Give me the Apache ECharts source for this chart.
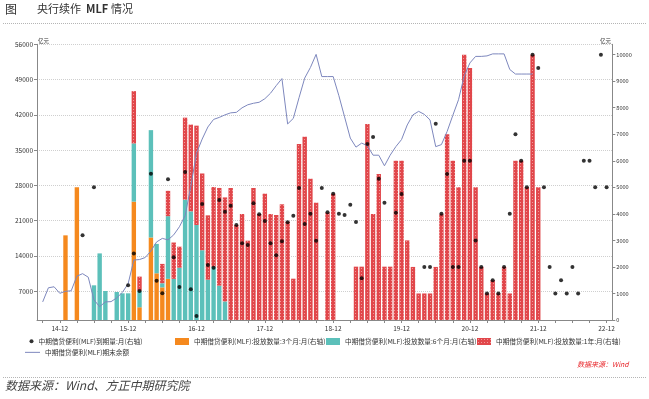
<!DOCTYPE html>
<html>
<head>
<meta charset="utf-8">
<script src="https://cdn.jsdelivr.net/npm/echarts@6/dist/echarts.min.js"></script>
<style>
  html, body { margin: 0; padding: 0; background: #fff; }
  #chart { width: 649px; height: 399px; }
</style>
</head>
<body>
<div id="chart"></div>
<script>
// 月度类目 14-08 ~ 23-01
const months = [];
for (let i = 0; i < 102; i++) {
  const m = 7 + i;
  const y = 14 + Math.floor(m / 12);
  const mm = (m % 12) + 1;
  months.push(y + '-' + (mm < 10 ? '0' + mm : mm));
}
const yearLabels = ['14-12', '15-12', '16-12', '17-12', '18-12', '19-12', '20-12', '21-12', '22-12'];
const leftTicks = [7000, 14000, 21000, 28000, 35000, 42000, 49000, 56000];

// 投放数量:3个月 (亿元, 右轴)
const issue3m = [
  ['15-01', 3190], ['15-03', 5000], ['16-01', 4460], ['16-02', 480],
  ['16-04', 3110], ['16-05', 1760], ['16-06', 1230], ['16-07', 1550]
];
// 投放数量:6个月
const issue6m = [
  ['15-06', 1307], ['15-07', 2510], ['15-08', 1093], ['15-10', 1055], ['15-11', 1005],
  ['15-12', 1005], ['16-01', 2195], ['16-02', 625], ['16-04', 4045], ['16-05', 1108],
  ['16-06', 155], ['16-07', 2363], ['16-08', 1550], ['16-09', 1971], ['16-10', 4535],
  ['16-11', 4095], ['16-12', 3581], ['17-01', 2630], ['17-02', 1520], ['17-03', 2010],
  ['17-04', 1295], ['17-05', 700]
];
// 投放数量:1年
const issue1y = [
  ['16-01', 1970], ['16-02', 530], ['16-06', 729], ['16-07', 955], ['16-08', 1370],
  ['16-09', 792], ['16-10', 3090], ['16-11', 3268], ['16-12', 3743], ['17-01', 2892],
  ['17-02', 2424], ['17-03', 3000], ['17-04', 3682], ['17-05', 3920], ['17-06', 4975],
  ['17-07', 3581], ['17-08', 3995], ['17-09', 2990], ['17-10', 4975], ['17-11', 3995],
  ['17-12', 4760], ['18-01', 3995], ['18-02', 3958], ['18-03', 4360], ['18-04', 3706],
  ['18-05', 1557], ['18-06', 6630], ['18-07', 6905], ['18-08', 5325], ['18-09', 4420],
  ['18-11', 4045], ['18-12', 4760], ['19-04', 2010], ['19-05', 2010], ['19-06', 7390],
  ['19-07', 3995], ['19-08', 5500], ['19-09', 2010], ['19-10', 2010], ['19-11', 6000],
  ['19-12', 6000], ['20-01', 3000], ['20-02', 2000], ['20-03', 1000], ['20-04', 1000],
  ['20-05', 1000], ['20-06', 2000], ['20-07', 4000], ['20-08', 7000], ['20-09', 6000],
  ['20-10', 5000], ['20-11', 10000], ['20-12', 9500], ['21-01', 5000], ['21-02', 2000],
  ['21-03', 1000], ['21-04', 1500], ['21-05', 1000], ['21-06', 2000], ['21-07', 1000],
  ['21-08', 6000], ['21-09', 6000], ['21-10', 5000], ['21-11', 10000], ['21-12', 5000]
];
// 到期量
const maturity = [
  ['15-04', 3190], ['15-06', 5000], ['15-12', 1307], ['16-01', 2510], ['16-02', 1093],
  ['16-04', 5514], ['16-05', 1482], ['16-06', 1005], ['16-07', 5300], ['16-08', 2363],
  ['16-09', 1244], ['16-10', 5578], ['16-11', 1157], ['16-12', 150], ['17-01', 4372],
  ['17-02', 2073], ['17-03', 1971], ['17-04', 4523], ['17-05', 4083], ['17-06', 4310],
  ['17-07', 3581], ['17-08', 2890], ['17-09', 2827], ['17-10', 4398], ['17-11', 3983],
  ['17-12', 3732], ['18-01', 2890], ['18-02', 2438], ['18-03', 2966], ['18-04', 3682],
  ['18-05', 3932], ['18-06', 4975], ['18-07', 3619], ['18-08', 4007], ['18-09', 2990],
  ['18-10', 4975], ['18-11', 4058], ['18-12', 4762], ['19-01', 4007], ['19-02', 3958],
  ['19-03', 4347], ['19-04', 3694], ['19-05', 1570], ['19-06', 6634], ['19-07', 6898],
  ['19-08', 5326], ['19-09', 4422], ['19-11', 4045], ['19-12', 4749], ['20-04', 2000],
  ['20-05', 2000], ['20-06', 7400], ['20-07', 4000], ['20-08', 5500], ['20-09', 2000],
  ['20-10', 2000], ['20-11', 6000], ['20-12', 6000], ['21-01', 3000], ['21-02', 2000],
  ['21-03', 1000], ['21-04', 1500], ['21-05', 1000], ['21-06', 2000], ['21-07', 4000],
  ['21-08', 7000], ['21-09', 6000], ['21-10', 5000], ['21-11', 10000], ['21-12', 9500],
  ['22-01', 5000], ['22-02', 2000], ['22-03', 1000], ['22-04', 1500], ['22-05', 1000],
  ['22-06', 2000], ['22-07', 1000], ['22-08', 6000], ['22-09', 6000], ['22-10', 5000],
  ['22-11', 10000], ['22-12', 5000]
];
// 期末余额 (左轴), 14-09 起逐月
const balanceStart = '14-09';
const balance = [
  4900, 7700, 7900, 6600, 7000, 7100, 10000, 10500, 9800, 5300,
  3950, 4900, 4950, 5700, 6800, 8500, 13200, 13300, 13700, 15000,
  16800, 17500, 17200, 18200, 19800, 22000, 27800, 34400, 37200, 39600,
  41100, 41500, 42000, 42400, 42500, 43400, 44000, 44300, 44500, 45200,
  46300, 47800, 49200, 40200, 41300, 45400, 49300, 51400, 54000, 49600,
  49600, 49600, 45800, 41600, 37400, 35600, 36400, 35900, 34000, 34000,
  31900, 34000, 35700, 37100, 40000, 42000, 42700, 42100, 41000, 35700,
  36100, 38700, 41900, 45000, 49700, 52300, 53600, 53600, 53700, 54100,
  54100, 54100, 51000, 50100, 50100, 50100, 50100
];

const nameDue = '中期借贷便利(MLF)到期量:月(右轴)';
const name3m = '中期借贷便利(MLF):投放数量:3个月:月(右轴)';
const name6m = '中期借贷便利(MLF):投放数量:6个月:月(右轴)';
const name1y = '中期借贷便利(MLF):投放数量:1年:月(右轴)';
const nameBal = '中期借贷便利(MLF)期末余额';

function fill(pairs) {
  const arr = months.map(() => null);
  pairs.forEach(([m, v]) => { arr[months.indexOf(m)] = v; });
  return arr;
}
const b0 = months.indexOf(balanceStart);
const balanceData = months.map((m, i) => {
  const j = i - b0;
  return j >= 0 && j < balance.length ? balance[j] : null;
});

// 1年期柱子的点状纹理
const tex = document.createElement('canvas');
tex.width = 3; tex.height = 3;
const tctx = tex.getContext('2d');
tctx.fillStyle = '#E1474B';
tctx.fillRect(0, 0, 3, 3);
tctx.fillStyle = '#F09A9A';
tctx.fillRect(1, 1, 1, 1);

const FONT = 'Noto Sans CJK SC';
const chart = echarts.init(document.getElementById('chart'));

const legendBase = {
  padding: 0,
  itemGap: 0,
  textStyle: { fontSize: 6.7, color: '#333', fontFamily: FONT },
  selectedMode: false
};

const option = {
  animation: false,
  textStyle: { fontFamily: FONT },
  grid: { left: 37, right: 36.7, top: 44.3, bottom: 79 },
  xAxis: {
    type: 'category',
    data: months,
    boundaryGap: false,
    axisLine: { lineStyle: { color: '#888' } },
    axisTick: {
      show: true, length: 3,
      interval: (i, v) => /-(03|06|09|12)$/.test(v),
      lineStyle: { color: '#888' }
    },
    axisLabel: {
      interval: (i, v) => yearLabels.includes(v),
      fontSize: 6.5, color: '#333', margin: 5
    },
    splitLine: { show: false }
  },
  yAxis: [
    {
      type: 'value', position: 'left', min: 1309, max: 56000,
      axisLine: { show: true, lineStyle: { color: '#888' } },
      axisTick: { show: true, length: 3, customValues: leftTicks, lineStyle: { color: '#888' } },
      axisLabel: { customValues: leftTicks, fontSize: 6.5, color: '#333', margin: 4, formatter: v => String(v) },
      splitLine: { show: true, lineStyle: { type: 'dotted', color: '#cfcfcf' } }
    },
    {
      type: 'value', position: 'right', min: 0, max: 10390, interval: 1000,
      axisLine: { show: true, lineStyle: { color: '#888' } },
      axisTick: { show: true, length: 3, lineStyle: { color: '#888' } },
      axisLabel: { fontSize: 5.6, color: '#333', margin: 4, showMaxLabel: false, formatter: v => String(v) },
      splitLine: { show: false }
    }
  ],
  legend: [
    Object.assign({}, legendBase, { data: [nameDue], left: 29.5, top: 338, icon: 'circle', itemWidth: 4, itemHeight: 4 }),
    Object.assign({}, legendBase, { data: [name3m], left: 175, top: 338, icon: 'rect', itemWidth: 14, itemHeight: 7 }),
    Object.assign({}, legendBase, { data: [name6m], left: 326, top: 338, icon: 'rect', itemWidth: 14, itemHeight: 7 }),
    Object.assign({}, legendBase, { data: [name1y], left: 477, top: 338, icon: 'rect', itemWidth: 14, itemHeight: 7 }),
    Object.assign({}, legendBase, { data: [nameBal], left: 25, top: 349, icon: 'rect', itemWidth: 15, itemHeight: 1 })
  ],
  series: [
    {
      name: name3m, type: 'bar', stack: 'mlf', yAxisIndex: 1, barWidth: 4.4,
      itemStyle: { color: '#F5891E' }, data: fill(issue3m)
    },
    {
      name: name6m, type: 'bar', stack: 'mlf', yAxisIndex: 1, barWidth: 4.4,
      itemStyle: { color: '#5CC0BA' }, data: fill(issue6m)
    },
    {
      name: name1y, type: 'bar', stack: 'mlf', yAxisIndex: 1, barWidth: 4.4,
      itemStyle: { color: { image: tex, repeat: 'repeat' } }, data: fill(issue1y)
    },
    {
      name: nameBal, type: 'line', yAxisIndex: 0, showSymbol: false, symbol: 'none',
      lineStyle: { color: '#7D87BD', width: 1 }, itemStyle: { color: '#7D87BD' },
      data: balanceData, z: 3
    },
    {
      name: nameDue, type: 'scatter', yAxisIndex: 1, symbol: 'circle', symbolSize: 4,
      itemStyle: { color: '#000' }, data: fill(maturity), z: 4
    }
  ],
  graphic: [
    { type: 'text', left: 5, top: 3, style: { text: '图', fontSize: 12, fill: '#333', fontFamily: FONT } },
    { type: 'text', left: 37, top: 3, style: { text: '央行续作', fontSize: 11, fill: '#333', fontFamily: FONT } },
    { type: 'text', left: 86, top: 3, style: { text: 'MLF', fontSize: 11, fontWeight: 'bold', fill: '#333', fontFamily: FONT } },
    { type: 'text', left: 111, top: 3, style: { text: '情况', fontSize: 11, fill: '#333', fontFamily: FONT } },
    { type: 'line', shape: { x1: 3, y1: 23.5, x2: 646, y2: 23.5 }, style: { stroke: '#b5b5b5', lineWidth: 1, lineDash: [1, 1] } },
    { type: 'text', left: 38, top: 38.5, style: { text: '亿元', fontSize: 5.5, fill: '#333', fontFamily: FONT } },
    { type: 'text', right: 38, top: 38.5, style: { text: '亿元', fontSize: 5.5, fill: '#333', fontFamily: FONT } },
    { type: 'text', left: 577, top: 361, style: { text: '数据来源：Wind', fontSize: 7, fontStyle: 'italic', fill: '#E8262A', fontFamily: FONT } },
    { type: 'line', shape: { x1: 3, y1: 377.5, x2: 646, y2: 377.5 }, style: { stroke: '#b5b5b5', lineWidth: 1, lineDash: [1, 1] } },
    { type: 'text', left: 5, top: 379, style: { text: '数据来源：Wind、方正中期研究院', fontSize: 12, fontStyle: 'italic', fill: '#444', fontFamily: FONT } }
  ]
};

chart.setOption(option);
</script>
</body>
</html>
